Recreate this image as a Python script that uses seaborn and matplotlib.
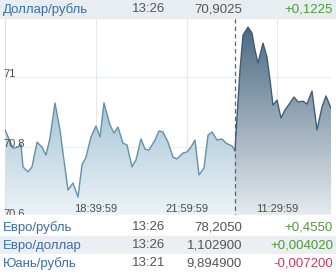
import numpy as np
import pandas as pd
import matplotlib
matplotlib.use("Agg")
import matplotlib.pyplot as plt
from matplotlib.patches import Rectangle
from matplotlib.colors import to_rgb
import matplotlib.transforms as mtransforms
import seaborn as sns

# ---------------- data ----------------
# trading-time position (arbitrary units along the compressed time axis)
t_prev = [0, 8, 13, 16, 18, 23, 27, 32, 37, 41, 45, 50, 55, 58, 63, 68, 73, 77, 81, 86,
          91, 95, 99, 105, 109, 113, 118, 122, 127, 131, 136, 140, 144, 150, 154, 158,
          163, 168, 172, 178, 182, 186, 190, 194, 199, 203, 207, 212, 217, 221, 227, 230]
v_prev = [70.849, 70.797, 70.800, 70.809, 70.743, 70.729, 70.743, 70.814, 70.800, 70.777,
          70.826, 70.926, 70.849, 70.783, 70.677, 70.697, 70.657, 70.749, 70.771, 70.829,
          70.860, 70.829, 70.926, 70.863, 70.840, 70.857, 70.811, 70.806, 70.743, 70.763,
          70.823, 70.794, 70.791, 70.820, 70.846, 70.843, 70.814, 70.771, 70.766, 70.783,
          70.786, 70.800, 70.820, 70.720, 70.740, 70.834, 70.843, 70.820, 70.823, 70.811,
          70.803, 70.789]
t_today = [230, 232, 235, 238, 243, 247, 250, 253, 258, 262, 265, 268, 272, 276, 280, 285,
           289, 293, 298, 302, 307, 312, 317, 321, 326]
v_today = [70.789, 70.886, 71.020, 71.120, 71.143, 71.126, 71.077, 71.040, 71.097, 71.057,
           70.991, 70.920, 70.934, 70.883, 70.906, 70.926, 70.943, 70.929, 70.931, 70.923,
           70.960, 70.849, 70.914, 70.946, 70.911]
day_split = 230
y_ticks = [70.6, 70.8, 71.0]
y_tick_labels = ["70.6", "70.8", "71"]
x_ticks = [91, 182, 272]
x_tick_labels = ["18:39:59", "21:59:59", "11:29:59"]

header = ["Доллар/рубль", "13:26", "70,9025", "+0,1225"]
rows_name = ["Евро/рубль", "Евро/доллар", "Юань/рубль"]
rows_time = ["13:26", "13:26", "13:21"]
rows_value = ["78,2050", "1,102900", "9,894900"]
rows_change = ["+0,4550", "+0,004020", "-0,007200"]

# ---------------- style ----------------
sns.set_style("white")
plt.rcParams["font.family"] = ["Liberation Sans", "DejaVu Sans"]

W, H = 336, 275
fig = plt.figure(figsize=(W / 100, H / 100), dpi=100)

def px_axes(x0, y0, x1, y1, **kw):
    return fig.add_axes([x0 / W, 1 - y1 / H, (x1 - x0) / W, (y1 - y0) / H], **kw)

ax = px_axes(5, 18, 331, 218)
ax.set_facecolor("white")

df = pd.DataFrame({
    "t": t_prev + t_today,
    "v": v_prev + v_today,
    "seg": ["prev"] * len(t_prev) + ["today"] * len(t_today),
})

xmin, xmax = min(t_prev), max(t_today)
ymin, ymax = 70.597, 71.169
ax.set_xlim(xmin, xmax)
ax.set_ylim(ymin, ymax)

# gradient fills
def grad_fill(t, v, color, a_top, a_bot, power):
    c = np.array(to_rgb(color))
    n = 256
    frac = np.linspace(0, 1, n)[:, None]  # 0 top -> 1 bottom
    alpha = a_top + (a_bot - a_top) * frac ** power
    img = np.ones((n, 1, 3)) * (1 - alpha[..., None]) + c * alpha[..., None]
    poly = ax.fill_between(t, v, ymin, color="none", lw=0)
    im = ax.imshow(img, extent=[min(t), max(t), ymin, ymax], aspect="auto",
                   origin="upper", zorder=1)
    path = poly.get_paths()[0]
    im.set_clip_path(path, transform=ax.transData)

grad_fill(t_prev, v_prev, "#5f97b6", 1.0, 0.1, 0.85)
grad_fill(t_today, v_today, "#45657f", 1.0, 0.12, 1.0)
ax.set_xlim(xmin, xmax)
ax.set_ylim(ymin, ymax)

sns.lineplot(data=df, x="t", y="v", hue="seg",
             palette={"prev": "#6391aa", "today": "#3f5d76"},
             linewidth=1.0, legend=False, ax=ax, zorder=3, estimator=None, sort=False)

# grid
for yv in y_ticks:
    ax.axhline(yv, color="#ebedf0", lw=0.8, zorder=0.5)
for xv in x_ticks:
    ax.axvline(xv, color="#e6e9ec", lw=0.8, zorder=0.5)
ax.axvline(day_split, color="#4a6983", lw=0.9, ls=(0, (3.5, 2.5)), zorder=4)

ax.set_xlabel("")
ax.set_ylabel("")
ax.set_xticks([])
ax.set_yticks([])
for s in ["top", "right", "bottom"]:
    ax.spines[s].set_visible(False)
ax.spines["left"].set_color("#dde1e5")
ax.spines["left"].set_linewidth(0.8)

# y labels inside
trans_y = mtransforms.blended_transform_factory(ax.transAxes, ax.transData)
for yv, lab in zip(y_ticks, y_tick_labels):
    ax.text(-2 / 326, yv, lab, transform=trans_y, ha="left", va="baseline",
            fontsize=8, color="#4d4d4d", zorder=6, clip_on=False)
# x labels inside
trans_x = mtransforms.blended_transform_factory(ax.transData, ax.transAxes)
for xv, lab in zip(x_ticks, x_tick_labels):
    ax.text(xv, 9 / 200, lab, transform=trans_x, ha="center", va="center",
            fontsize=8, color="#4d4d4d", zorder=6)

# ---------------- table ----------------
fs = 9.5
blue = "#3a6fa8"
gray = "#555555"
green = "#4c9c35"
red = "#d2375e"

def row(yc, texts, change_color, bg=None, y0=None, y1=None):
    if bg is not None:
        fig.patches.append(Rectangle((0, 1 - y1 / H), 1, (y1 - y0) / H,
                                     transform=fig.transFigure, color=bg, zorder=1))
    y = 1 - yc / H
    fig.text(3 / W, y, texts[0], ha="left", va="center", fontsize=fs, color=blue)
    fig.text(165 / W, y, texts[1], ha="right", va="center", fontsize=fs, color=gray)
    fig.text(242 / W, y, texts[2], ha="right", va="center", fontsize=fs, color=gray)
    fig.text(333 / W, y, texts[3], ha="right", va="center", fontsize=fs, color=change_color)

def col(s):
    return green if s.startswith("+") else red

# white cover for the table area
fig.patches.append(Rectangle((0, 0), 1, 1 - 215 / H, transform=fig.transFigure,
                             color="white", zorder=1))
row(9.5, header, col(header[3]), bg="#e8edf2", y0=0, y1=18)
bgs = ["white", "#ebeef2", "white"]
tops = [218, 236, 254]
for i in range(3):
    row(tops[i] + 9.5, [rows_name[i], rows_time[i], rows_value[i], rows_change[i]],
        col(rows_change[i]), bg=bgs[i], y0=tops[i], y1=tops[i] + 18)

fig.savefig("out.png", dpi=100)
